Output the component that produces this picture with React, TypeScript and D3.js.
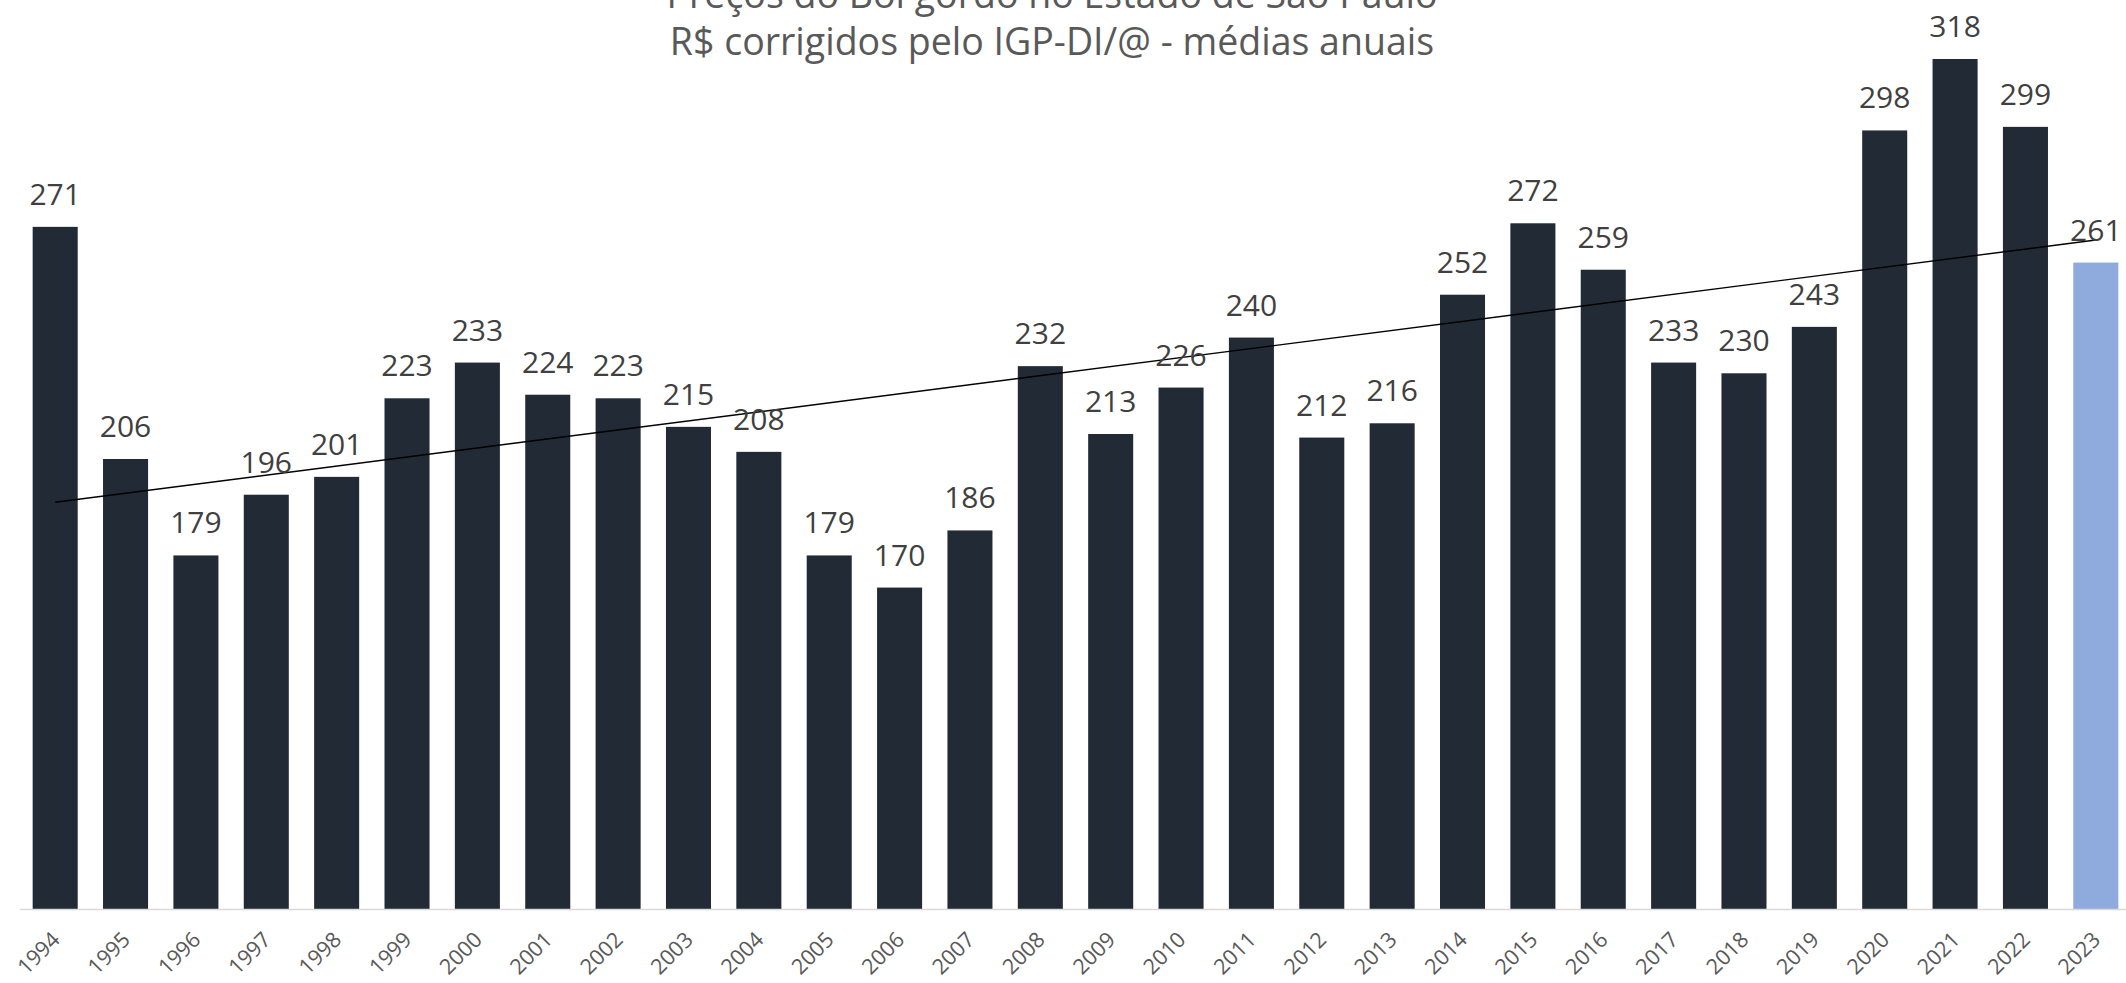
import React from "react";
import * as d3 from "d3";

const years = ["1994","1995","1996","1997","1998","1999","2000","2001","2002","2003","2004","2005","2006","2007","2008","2009","2010","2011","2012","2013","2014","2015","2016","2017","2018","2019","2020","2021","2022","2023"];
const prices = [271,206,179,196,201,223,233,224,223,215,208,179,170,186,232,213,226,240,212,216,252,272,259,233,230,243,298,318,299,261];
const highlightYear = "2023";
const titleLines = ["Preços do Boi gordo no Estado de São Paulo", "R$ corrigidos pelo IGP-DI/@ - médias anuais"];

const W = 2126;
const H = 983;
const FONT = "'Open Sans', 'Noto Sans', sans-serif";

export default function App() {
  const x = d3.scaleBand<string>().domain(years).range([20, 2131]).paddingInner(0.36).paddingOuter(0.18);
  const y = d3.scaleLinear().domain([80, 318]).range([909, 59]);

  // linear regression trend
  const n = prices.length;
  const mx = d3.mean(d3.range(n)) as number;
  const my = d3.mean(prices) as number;
  let sxy = 0, sxx = 0;
  prices.forEach((v, i) => { sxy += (i - mx) * (v - my); sxx += (i - mx) * (i - mx); });
  const slope = sxy / sxx;
  const intercept = my - slope * mx;
  const trendPts: [number, number][] = [0, n - 1].map((i) => [
    (x(years[i]) as number) + x.bandwidth() / 2,
    y(intercept + slope * i),
  ]);
  const line = d3.line();

  return (
    <svg width={W} height={H} style={{ position: "absolute", left: 0, top: 0, background: "#fff" }}>
      {titleLines.map((t, i) => (
        <text key={i} x={1052} y={8 + i * 47} textAnchor="middle" fontFamily={FONT} fontSize={37.5} fill="#595959">{t}</text>
      ))}
      {years.map((yr, i) => (
        <rect key={yr} x={x(yr)} y={y(prices[i])} width={x.bandwidth()} height={y.range()[0] - y(prices[i])}
          fill={yr === highlightYear ? "#8faadc" : "#222a35"} />
      ))}
      <line x1={20} x2={W} y1={909.5} y2={909.5} stroke="#d9d9d9" strokeWidth={1.5} />
      <path d={line(trendPts) as string} stroke="#000" strokeWidth={1.4} fill="none" />
      {years.map((yr, i) => (
        <text key={"l" + yr} x={(x(yr) as number) + x.bandwidth() / 2} y={y(prices[i]) - 22} textAnchor="middle"
          fontFamily={FONT} fontSize={30} fill="#404040">{prices[i]}</text>
      ))}
      {years.map((yr) => {
        const cx = (x(yr) as number) + x.bandwidth() / 2 + 6;
        const cy = 941;
        return (
          <text key={"t" + yr} transform={`translate(${cx},${cy}) rotate(-45)`} textAnchor="end"
            fontFamily={FONT} fontSize={21.5} fill="#595959">{yr}</text>
        );
      })}
    </svg>
  );
}
